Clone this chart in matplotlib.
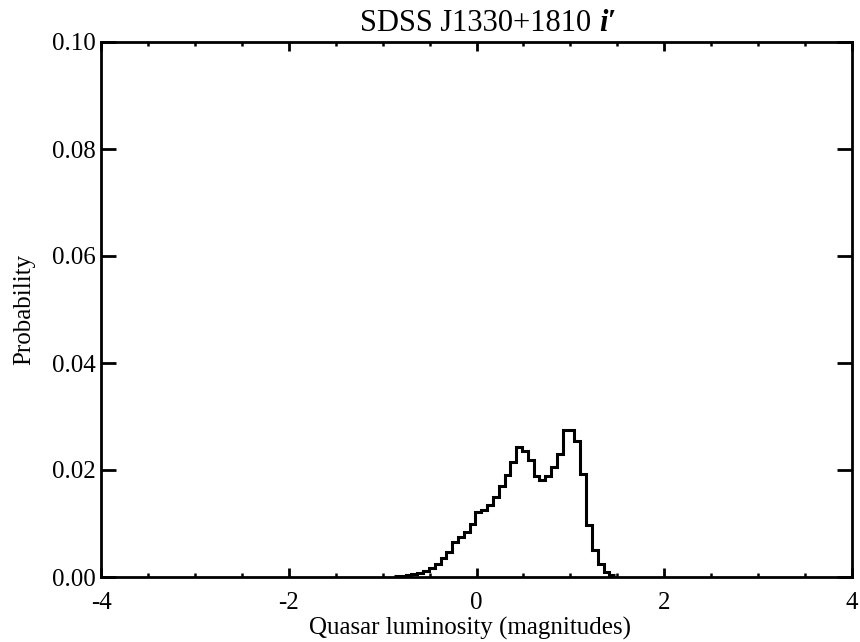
import numpy as np
import matplotlib
matplotlib.use("Agg")
import matplotlib.pyplot as plt
from matplotlib.ticker import MultipleLocator, FormatStrFormatter

plt.rcParams['font.family'] = ['Liberation Serif', 'DejaVu Serif']
plt.rcParams['axes.unicode_minus'] = False

# Histogram data (bin width ~0.062 mag)
bin_start = -0.879
bin_width = 0.062
probability = [0.0001, 0.0002, 0.0003, 0.0005, 0.0008, 0.0011, 0.0016, 0.0025,
               0.0035, 0.0046, 0.0065, 0.0075, 0.0084, 0.0099, 0.0121, 0.0125,
               0.0134, 0.0150, 0.0171, 0.0190, 0.0215, 0.0243, 0.0236, 0.0218,
               0.0189, 0.0182, 0.0189, 0.0206, 0.0230, 0.0274, 0.0274, 0.0255,
               0.0193, 0.0097, 0.0050, 0.0025, 0.0009, 0.0003]
x_ticks = [-4, -2, 0, 2, 4]
y_ticks = [0.00, 0.02, 0.04, 0.06, 0.08, 0.10]

edges = bin_start + bin_width * np.arange(len(probability) + 1)

W, H = 860, 642
fig = plt.figure(figsize=(W / 100, H / 100), dpi=100)
left, right, top, bottom = 101, 852, 42, 577
ax = fig.add_axes([left / W, (H - bottom) / H, (right - left) / W, (bottom - top) / H])

ax.stairs(probability, edges, color='black', linewidth=2.2, baseline=None)
ax.set_xlim(-4, 4)
ax.set_ylim(0, 0.10)
ax.set_xticks(x_ticks)
ax.set_yticks(y_ticks)
ax.xaxis.set_minor_locator(MultipleLocator(0.5))
ax.yaxis.set_major_formatter(FormatStrFormatter('%.2f'))
ax.xaxis.set_major_formatter(FormatStrFormatter('%d'))

ax.tick_params(axis='both', which='both', direction='in', top=True, right=True,
               labelsize=18, width=2.0)
ax.tick_params(axis='x', which='major', length=6.5, pad=11)
ax.tick_params(axis='x', which='minor', length=3, width=1.8)
ax.tick_params(axis='y', which='major', length=10.8, pad=4)
for s in ax.spines.values():
    s.set_linewidth(2.0)

ax.set_xlabel('Quasar luminosity (magnitudes)', fontsize=18)
ax.xaxis.set_label_coords((470 - left) / (right - left), -0.074)
ax.set_ylabel('Probability', fontsize=18, labelpad=12)

# Title: normal part + bold italic i'
fig.canvas.draw()
r = fig.canvas.get_renderer()
t1 = fig.text(0, 0, 'SDSS J1330+1810 ', fontsize=22, va='baseline')
t2 = fig.text(0, 0, "i\u2032", fontsize=22, va='baseline', fontweight='bold', fontstyle='italic')
w1 = t1.get_window_extent(r).width / fig.bbox.width
w2 = t2.get_window_extent(r).width / fig.bbox.width
cx = 488 / W
ybase = 1 - 31 / H
t1.set_position((cx - (w1 + w2) / 2, ybase))
t2.set_position((cx - (w1 + w2) / 2 + w1, ybase))

fig.savefig('out.png', dpi=100)
